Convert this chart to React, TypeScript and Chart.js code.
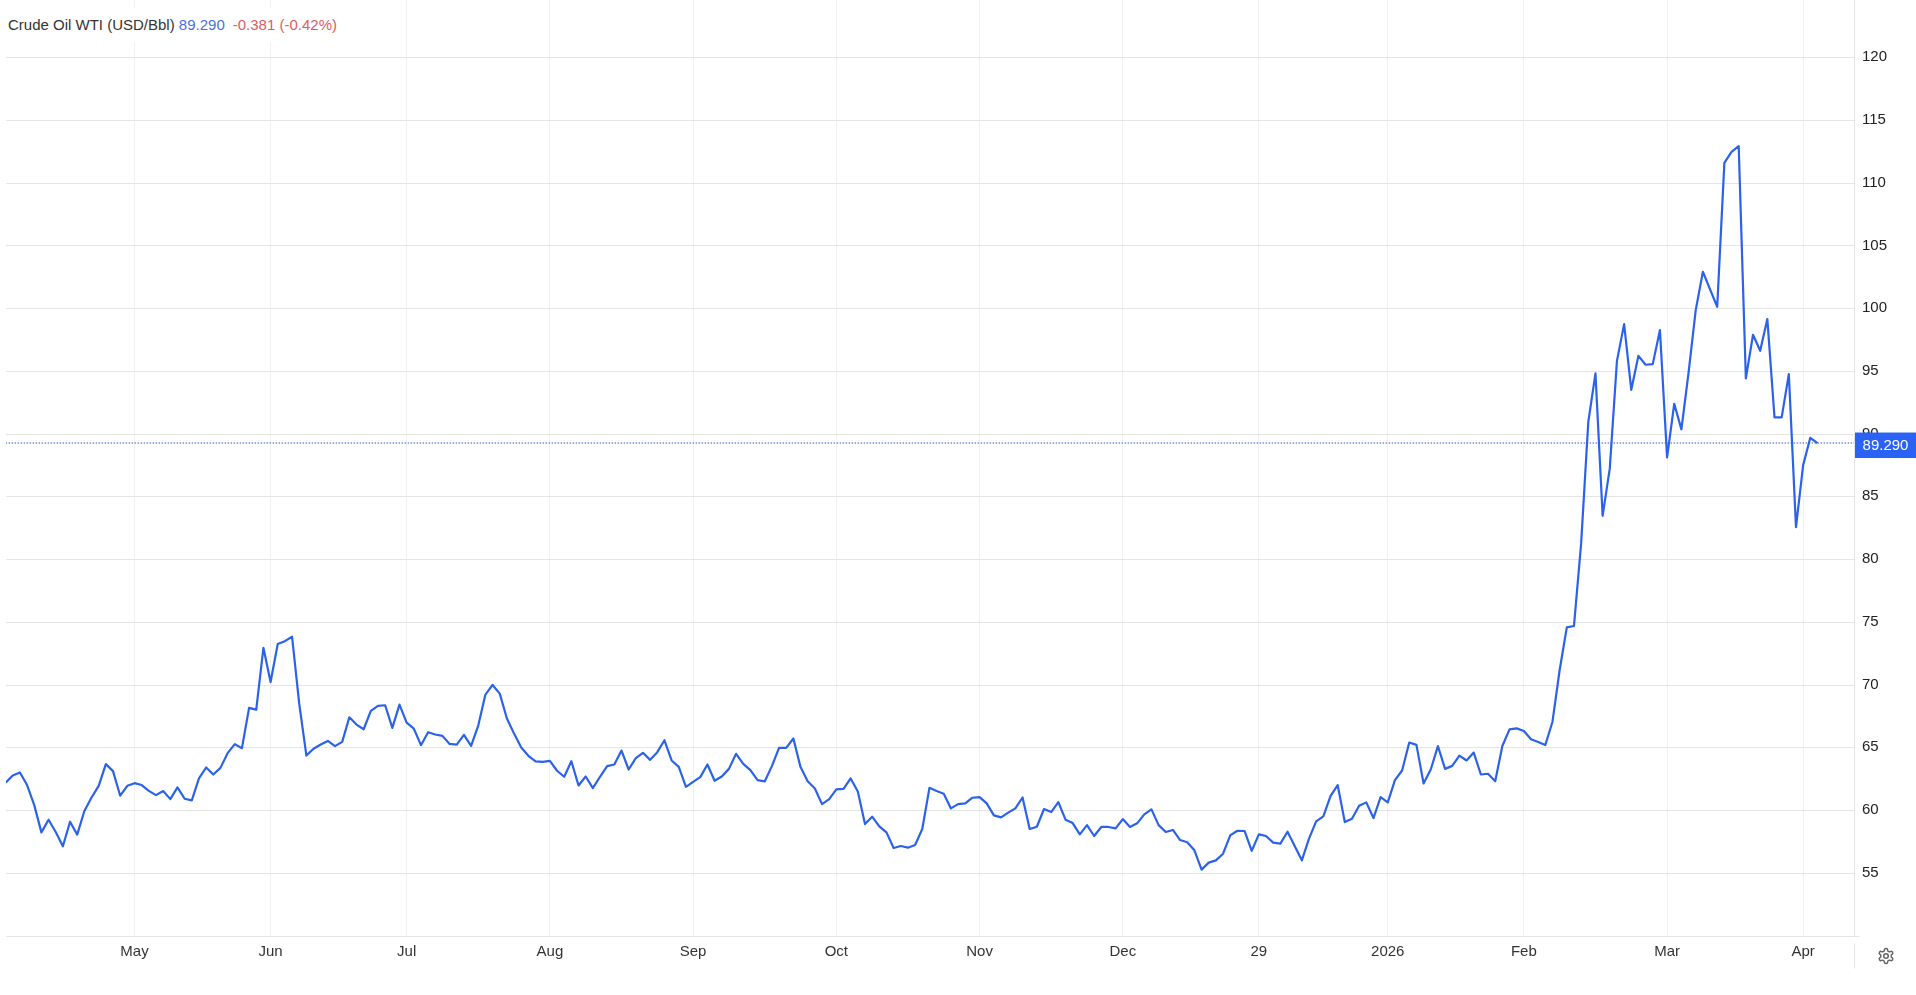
import React, { useEffect, useRef } from "react";
import { Chart, registerables } from "chart.js";

Chart.register(...registerables);

const prices = [
  62.21, 62.79, 63.03, 62.03, 60.43, 58.26, 59.27, 58.29, 57.15, 59.11,
  58.08, 59.96, 61.04, 61.97, 63.7, 63.14, 61.18, 61.97, 62.18, 62.03,
  61.57, 61.23, 61.55, 60.91, 61.84, 60.94, 60.81, 62.56, 63.43, 62.87,
  63.4, 64.57, 65.29, 64.97, 68.18, 68.04, 72.97, 70.24, 73.27, 73.5,
  73.85, 68.52, 64.38, 64.92, 65.26, 65.55, 65.13, 65.47, 67.43, 66.85,
  66.48, 67.94, 68.34, 68.39, 66.59, 68.44, 67.01, 66.53, 65.21, 66.24,
  66.06, 65.95, 65.31, 65.26, 66.03, 65.15, 66.77, 69.24, 70.01, 69.32,
  67.33, 66.13, 65.02, 64.36, 63.91, 63.88, 63.96, 63.17, 62.69, 63.93,
  62.0, 62.71, 61.79, 62.69, 63.54, 63.67, 64.78, 63.27, 64.17, 64.6,
  64.04, 64.65, 65.6, 63.99, 63.48, 61.89, 62.29, 62.66, 63.67, 62.37,
  62.71, 63.32, 64.52, 63.72, 63.22, 62.42, 62.32, 63.54, 64.99, 64.99,
  65.74, 63.46, 62.34, 61.76, 60.51, 60.91, 61.68, 61.73, 62.56, 61.52,
  58.92, 59.51, 58.74, 58.26, 57.01, 57.17, 57.04, 57.25, 58.53, 61.81,
  61.55, 61.34, 60.17, 60.51, 60.57, 61.02, 61.07, 60.57, 59.61, 59.45,
  59.83, 60.17, 61.04, 58.53, 58.71, 60.12, 59.88, 60.67, 59.27, 59.0,
  58.1, 58.84, 57.97, 58.69, 58.69, 58.58, 59.32, 58.69, 58.98, 59.69,
  60.09, 58.84, 58.29, 58.45, 57.65, 57.47, 56.83, 55.29, 55.85, 56.03,
  56.56, 58.02, 58.39, 58.37, 56.78, 58.1, 57.97, 57.44, 57.36, 58.31,
  57.17, 56.03, 57.76, 59.14, 59.53, 61.15, 62.03, 59.08, 59.35, 60.38,
  60.65, 59.4, 61.07, 60.65, 62.42, 63.19, 65.42, 65.23, 62.16, 63.27,
  65.13, 63.32, 63.56, 64.38, 63.99, 64.62, 62.87, 62.93, 62.34, 65.14,
  66.47, 66.55, 66.34, 65.68, 65.46, 65.22, 67.08, 71.2, 74.6, 74.71,
  81.29, 90.98, 94.84, 83.49, 87.27, 95.84, 98.77, 93.53, 96.24, 95.53,
  95.58, 98.29, 88.15, 92.42, 90.38, 94.9, 99.88, 102.94, 101.53, 100.15,
  111.62, 112.5, 112.95, 94.44, 97.92, 96.64, 99.17, 91.33, 91.33, 94.78,
  82.59, 87.53, 89.71, 89.29,
];

const monthIndexes = [18, 37, 56, 76, 96, 116, 136, 156, 175, 193, 212, 232, 251];
const monthLabels = ["May", "Jun", "Jul", "Aug", "Sep", "Oct", "Nov", "Dec", "29", "2026", "Feb", "Mar", "Apr"];
const priceTicks = [50, 55, 60, 65, 70, 75, 80, 85, 90, 95, 100, 105, 110, 115, 120];

const seriesName = "Crude Oil WTI (USD/Bbl)";
const lastPrice = "89.290";
const change = "-0.381";
const changePct = "(-0.42%)";

const FONT = '"Liberation Sans", Arial, sans-serif';
const LINE = "#2b62ea";
const GRID_H = "#e5e5e5";
const GRID_V = "#f0f0f2";

const overlay = {
  id: "overlay",
  afterDraw(chart: any) {
    const { ctx, chartArea, scales } = chart;
    ctx.save();
    // axis line stub and separator under the price scale
    ctx.strokeStyle = GRID_H;
    ctx.lineWidth = 1;
    const by = Math.round(chartArea.bottom) + 0.5;
    const rx = Math.round(chartArea.right) + 0.5;
    ctx.beginPath();
    ctx.moveTo(rx, by);
    ctx.lineTo(rx + 5, by);
    ctx.moveTo(rx, by + 7);
    ctx.lineTo(rx, by + 32);
    ctx.stroke();
    // last price flag
    const y = scales.y.getPixelForValue(prices[prices.length - 1]);
    ctx.fillStyle = "#2962f5";
    ctx.fillRect(rx + 0.5, y - 10.5, 62, 25.5);
    ctx.fillStyle = "#ffffff";
    ctx.font = `15px ${FONT}`;
    ctx.textAlign = "center";
    ctx.textBaseline = "middle";
    ctx.fillText(lastPrice, rx + 31, y + 3);
    ctx.restore();
  },
};

export default function App() {
  const ref = useRef<HTMLCanvasElement>(null);

  useEffect(() => {
    const chart = new Chart(ref.current as HTMLCanvasElement, {
      type: "line",
      data: {
        datasets: [
          {
            data: [
              { x: 0, y: prices[prices.length - 1] },
              { x: 258.1, y: prices[prices.length - 1] },
            ],
            borderColor: "#3558c8",
            borderWidth: 1.1,
            borderDash: [1.5, 1.5],
            pointRadius: 0,
          },
          {
            data: prices.map((y, x) => ({ x, y })),
            borderColor: LINE,
            borderWidth: 2.2,
            borderJoinStyle: "round",
            pointRadius: 0,
            tension: 0,
          },
        ],
      },
      options: {
        animation: false,
        responsive: false,
        devicePixelRatio: 1,
        layout: { padding: { left: 6, top: 0, right: 0, bottom: 0 } },
        plugins: { legend: { display: false }, tooltip: { enabled: false } },
        scales: {
          x: {
            type: "linear",
            min: 0.056,
            max: 258.1,
            afterBuildTicks: (s: any) => {
              s.ticks = monthIndexes.map((value) => ({ value }));
            },
            afterFit: (s: any) => {
              s.height = 59;
              s.paddingLeft = 0;
              s.paddingRight = 0;
            },
            grid: { color: GRID_V, drawTicks: false },
            border: { color: GRID_H },
            ticks: {
              autoSkip: false,
              maxRotation: 0,
              padding: 7,
              color: "#333",
              font: { family: FONT, size: 15 },
              callback: (v: any) => monthLabels[monthIndexes.indexOf(v)] ?? "",
            },
          },
          y: {
            type: "linear",
            position: "right",
            min: 50,
            max: 124.6,
            afterBuildTicks: (s: any) => {
              s.ticks = priceTicks.map((value) => ({ value }));
            },
            afterFit: (s: any) => {
              s.width = 62;
              s.paddingTop = 0;
              s.paddingBottom = 0;
            },
            grid: { color: GRID_H, drawTicks: false },
            border: { color: GRID_H },
            ticks: {
              padding: 8,
              labelOffset: -0.5,
              color: "#222",
              font: { family: FONT, size: 15 },
              callback: (v: any) => (v === 50 ? "" : String(v)),
            },
          },
        },
      },
      plugins: [overlay],
    } as any);
    return () => chart.destroy();
  }, []);

  return (
    <div style={{ position: "fixed", inset: 0, background: "#fff" }}>
      <canvas ref={ref} width={1916} height={995} style={{ display: "block" }} />
      <div
        style={{
          position: "absolute",
          left: 8,
          top: 8,
          width: 337,
          height: 34,
          lineHeight: "34px",
          background: "#fff",
          fontFamily: FONT,
          fontSize: 15,
          color: "#333",
          whiteSpace: "pre",
        }}
      >
        {seriesName} <span style={{ color: "#4a6fe3" }}>{lastPrice}</span>
        <span style={{ color: "#dc5c60", marginLeft: 8 }}>
          {change} {changePct}
        </span>
      </div>
      <svg
        viewBox="0 0 24 24"
        width={18}
        height={18}
        fill="none"
        stroke="#666"
        strokeWidth={2}
        style={{ position: "absolute", left: 1877, top: 947 }}
      >
        <path d="M12.22 2h-.44a2 2 0 0 0-2 2v.18a2 2 0 0 1-1 1.73l-.43.25a2 2 0 0 1-2 0l-.15-.08a2 2 0 0 0-2.73.73l-.22.38a2 2 0 0 0 .73 2.73l.15.1a2 2 0 0 1 1 1.72v.51a2 2 0 0 1-1 1.74l-.15.09a2 2 0 0 0-.73 2.73l.22.38a2 2 0 0 0 2.73.73l.15-.08a2 2 0 0 1 2 0l.43.25a2 2 0 0 1 1 1.73V20a2 2 0 0 0 2 2h.44a2 2 0 0 0 2-2v-.18a2 2 0 0 1 1-1.73l.43-.25a2 2 0 0 1 2 0l.15.08a2 2 0 0 0 2.73-.73l.22-.39a2 2 0 0 0-.73-2.73l-.15-.08a2 2 0 0 1-1-1.74v-.5a2 2 0 0 1 1-1.74l.15-.09a2 2 0 0 0 .73-2.73l-.22-.38a2 2 0 0 0-2.73-.73l-.15.08a2 2 0 0 1-2 0l-.43-.25a2 2 0 0 1-1-1.73V4a2 2 0 0 0-2-2z" />
        <circle cx="12" cy="12" r="3" />
      </svg>
    </div>
  );
}
